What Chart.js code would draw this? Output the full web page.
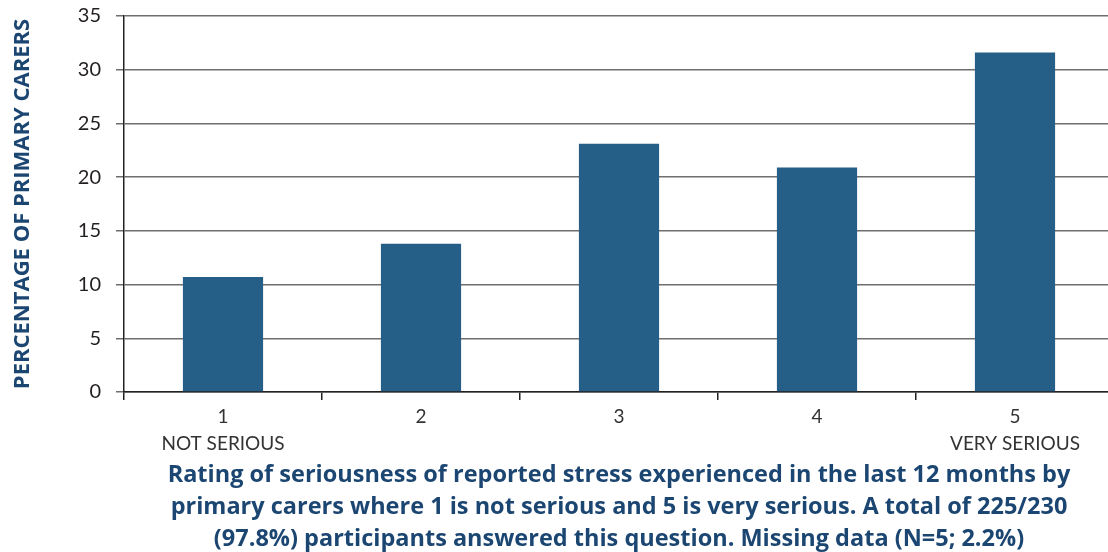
<!DOCTYPE html>
<html>
<head>
<meta charset="utf-8">
<script src="https://cdn.jsdelivr.net/npm/chart.js@4"></script>
<style>
  html, body { margin: 0; padding: 0; background: #fff; overflow: hidden; }
  #wrap { width: 1120px; height: 552px; }
</style>
</head>
<body>
<div id="wrap"><canvas id="stress" width="1120" height="552"></canvas></div>
<script>
// Seriousness rating categories (1 = not serious, 5 = very serious)
var ratings = [["1", "NOT SERIOUS"], "2", "3", "4", ["5", "VERY SERIOUS"]];
// Percentage of primary carers for each rating
var percentages = [10.7, 13.8, 23.1, 20.9, 31.6];
// Y axis range
var yMin = 0;
var yMax = 35;
var yStep = 5;

var captionLines = [
  "Rating of seriousness of reported stress experienced in the last 12 months by",
  "primary carers where 1 is not serious and 5 is very serious. A total of 225/230",
  "(97.8%) participants answered this question. Missing data (N=5; 2.2%)"
];

var navy = "#1c4672";
var gridColor = "#6e6e6e";

var ctx = document.getElementById("stress").getContext("2d");
var chart_stress = new Chart(ctx, {
  type: "bar",
  data: {
    labels: ratings,
    datasets: [{
      label: "Primary carers",
      data: percentages,
      backgroundColor: "#255e87",
      barPercentage: 0.81,
      categoryPercentage: 0.5
    }]
  },
  options: {
    responsive: false,
    animation: false,
    layout: {
      padding: { top: 16, right: 6, left: 0, bottom: 0 }
    },
    plugins: {
      legend: { display: false },
      tooltip: { enabled: false }
    },
    scales: {
      x: {
        offset: true,
        grid: {
          offset: true,
          drawOnChartArea: false,
          drawTicks: true,
          tickLength: 8,
          color: "#222",
          lineWidth: 1.5
        },
        border: { display: true, color: "#222", width: 1.5 },
        ticks: {
          color: "#333",
          font: { family: "Lato", size: 19, lineHeight: 1.42 },
          padding: 3,
          maxRotation: 0
        },
        title: {
          display: true,
          text: captionLines,
          color: navy,
          font: { family: "Open Sans", size: 23.5, weight: "bold", lineHeight: 1.362 },
          padding: { top: 0, bottom: -3 }
        },
        afterFit: function (scale) {
          scale.height = 160;
        }
      },
      y: {
        min: yMin,
        max: yMax,
        grid: {
          color: gridColor,
          lineWidth: 1.5,
          tickLength: 8
        },
        border: { display: true, color: "#222", width: 1.5 },
        ticks: {
          stepSize: yStep,
          color: "#231f20",
          font: { family: "Lato", size: 20 },
          padding: 15
        },
        title: {
          display: true,
          text: "PERCENTAGE OF PRIMARY CARERS",
          color: navy,
          font: { family: "Open Sans", size: 22, weight: "bold" },
          padding: { top: 10, bottom: 0 }
        },
        afterFit: function (scale) {
          scale.width = 124;
          scale.paddingTop = 0;
          scale.paddingBottom = 0;
        }
      }
    }
  }
});
</script>
</body>
</html>
